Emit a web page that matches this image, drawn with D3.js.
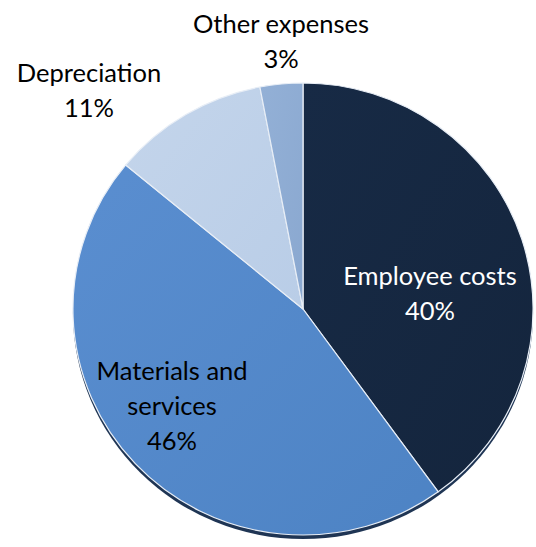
<!DOCTYPE html>
<html>
<head>
<meta charset="utf-8">
<script src="https://cdn.jsdelivr.net/npm/d3@7"></script>
<style>
  body { margin: 0; background: #fff; }
  text { font-family: Lato, "Open Sans", sans-serif; }
</style>
</head>
<body>
<div id="chart"></div>
<script>
// data
var categories = ["Employee costs", "Materials and services", "Depreciation", "Other expenses"]
var values = [40, 46, 11, 3]
var labelLines = [["Employee costs", "40%"], ["Materials and", "services", "46%"], ["Depreciation", "11%"], ["Other expenses", "3%"]]

// layout
var width = 536, height = 547
var cx = 303, cy = 309, radius = 226
var colors = ["#172a45", "#5a8ed0", "#c4d5eb", "#93b0d6"]
var colorsDark = ["#14253d", "#4d83c4", "#b9cde7", "#8aa8d0"]
var labelPos = [[430, 276], [172, 371], [89, 73], [281, 24]]
var labelColor = ["#ffffff", "#000000", "#000000", "#000000"]

var svg = d3.select("#chart")
    .append("svg")
    .attr("width", width)
    .attr("height", height)

var defs = svg.append("defs")
colors.forEach(function (c, i) {
    var g = defs.append("linearGradient")
        .attr("id", "grad" + i)
        .attr("x1", "0%").attr("y1", "0%")
        .attr("x2", "100%").attr("y2", "100%")
    g.append("stop").attr("offset", "0%").attr("stop-color", c)
    g.append("stop").attr("offset", "100%").attr("stop-color", colorsDark[i])
})

var pie = d3.pie()
    .sort(null)
    .value(function (d) { return d })

var arc = d3.arc()
    .innerRadius(0)
    .outerRadius(radius)

var g = svg.append("g")
    .attr("transform", "translate(" + cx + "," + cy + ") scale(1.018,1)")

// dark rim under the pie (3d look)
g.append("ellipse")
    .attr("cx", 0)
    .attr("cy", 4)
    .attr("rx", radius)
    .attr("ry", radius)
    .attr("fill", "#1f3554")

g.selectAll("path.slice")
    .data(pie(values))
    .enter().append("path")
    .attr("class", "slice")
    .attr("d", arc)
    .attr("fill", function (d, i) { return "url(#grad" + i + ")" })
    .attr("stroke", "#e8eef6")
    .attr("stroke-width", 1.2)
    .attr("stroke-linejoin", "round")

// labels
var lineH = 35
svg.selectAll("g.label")
    .data(labelLines)
    .enter().append("g")
    .attr("class", "label")
    .attr("transform", function (d, i) {
        return "translate(" + labelPos[i][0] + "," + labelPos[i][1] + ")"
    })
    .each(function (lines, i) {
        d3.select(this).selectAll("text")
            .data(lines)
            .enter().append("text")
            .attr("x", 0)
            .attr("y", function (t, j) { return j * lineH })
            .attr("dy", "0.35em")
            .attr("text-anchor", "middle")
            .attr("font-size", 25.5)
            .attr("fill", labelColor[i])
            .text(function (t) { return t })
    })
</script>
</body>
</html>
